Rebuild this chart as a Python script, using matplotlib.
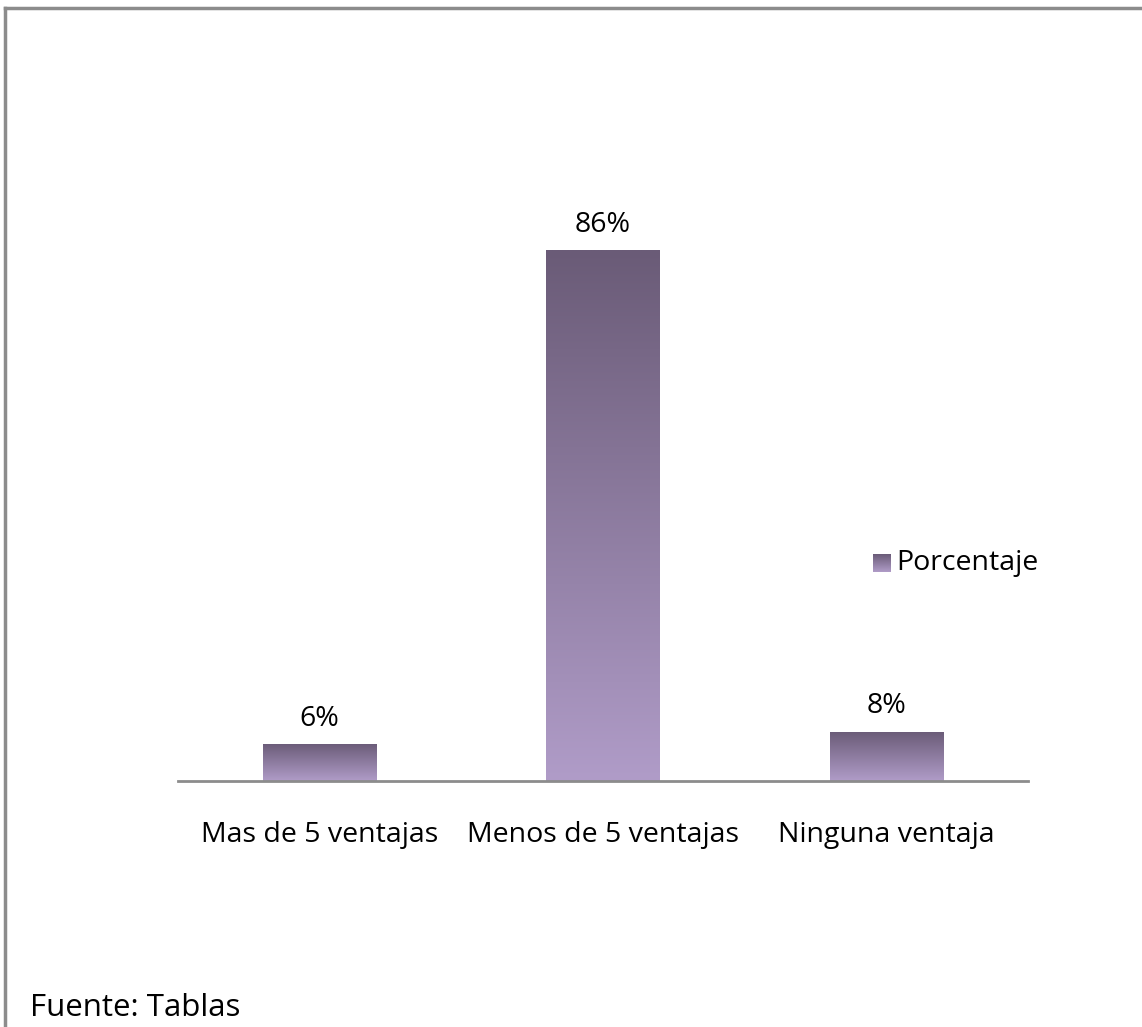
import numpy as np
import matplotlib.pyplot as plt
from matplotlib.colors import LinearSegmentedColormap
from matplotlib.patches import Rectangle
from matplotlib.lines import Line2D

# Resultados de la encuesta
categorias = ['Mas de 5 ventajas', 'Menos de 5 ventajas', 'Ninguna ventaja']
porcentaje = [6, 86, 8]
etiquetas = ['6%', '86%', '8%']
serie = 'Porcentaje'
fuente = 'Fuente: Tablas'

W, H = 1142, 1027
fig = plt.figure(figsize=(W / 100, H / 100), dpi=100)
fig.patch.set_facecolor('white')

# area de trazado en pixeles
x0, x1 = 178, 1028
y_base, y_top = 781, 100
ax = fig.add_axes([x0 / W, (H - y_base) / H, (x1 - x0) / W, (y_base - y_top) / H])
px_per_unit = 531 / 86

oscuro = '#6a5b77'
claro = '#b09cc8'
cmap = LinearSegmentedColormap.from_list('lila', [claro, oscuro])
grad = np.linspace(0, 1, 256).reshape(-1, 1)

ancho = 0.4
for i, v in enumerate(porcentaje):
    im = ax.imshow(grad, cmap=cmap, aspect='auto', origin='lower',
                   extent=(i - ancho / 2, i + ancho / 2, 0, v), zorder=2)
    rect = Rectangle((i - ancho / 2, 0), ancho, v, transform=ax.transData,
                     facecolor='none', edgecolor='none')
    ax.add_patch(rect)
    im.set_clip_path(rect)
    ax.text(i, v + 1.8, etiquetas[i], ha='center', va='bottom',
            fontsize=20.5, family='Open Sans', color='black')

ax.set_xlim(-0.5, len(categorias) - 0.5)
ax.set_ylim(0, (y_base - y_top) / px_per_unit)

for s in ['top', 'right', 'left']:
    ax.spines[s].set_visible(False)
ax.spines['bottom'].set_color('#8c8c8c')
ax.spines['bottom'].set_linewidth(2)
ax.set_yticks([])
ax.set_xticks(range(len(categorias)))
ax.set_xticklabels(categorias, fontsize=20.5, family='Open Sans')
ax.tick_params(axis='x', length=0, pad=29)

# leyenda con cuadro degradado
lx, ly, ls = 873, 563, 18
lax = fig.add_axes([lx / W, (H - ly - ls / 2) / H, ls / W, ls / H])
lax.imshow(grad, cmap=cmap, aspect='auto', origin='lower', extent=(0, 1, 0, 1))
lax.set_axis_off()
fig.text(896 / W, (H - ly) / H, serie, ha='left', va='center',
         fontsize=20.5, family='Open Sans')

# marco
fig.add_artist(Line2D([5 / W, 5 / W], [0, (H - 8) / H], color='#8c8c8c', lw=2.5))
fig.add_artist(Line2D([5 / W, 1], [(H - 8) / H, (H - 8) / H], color='#8c8c8c', lw=2.5))

fig.text(30 / W, (H - 1008) / H, fuente, ha='left', va='center',
         fontsize=22.5, family='Open Sans')

fig.savefig('out.png', dpi=100, facecolor='white')
